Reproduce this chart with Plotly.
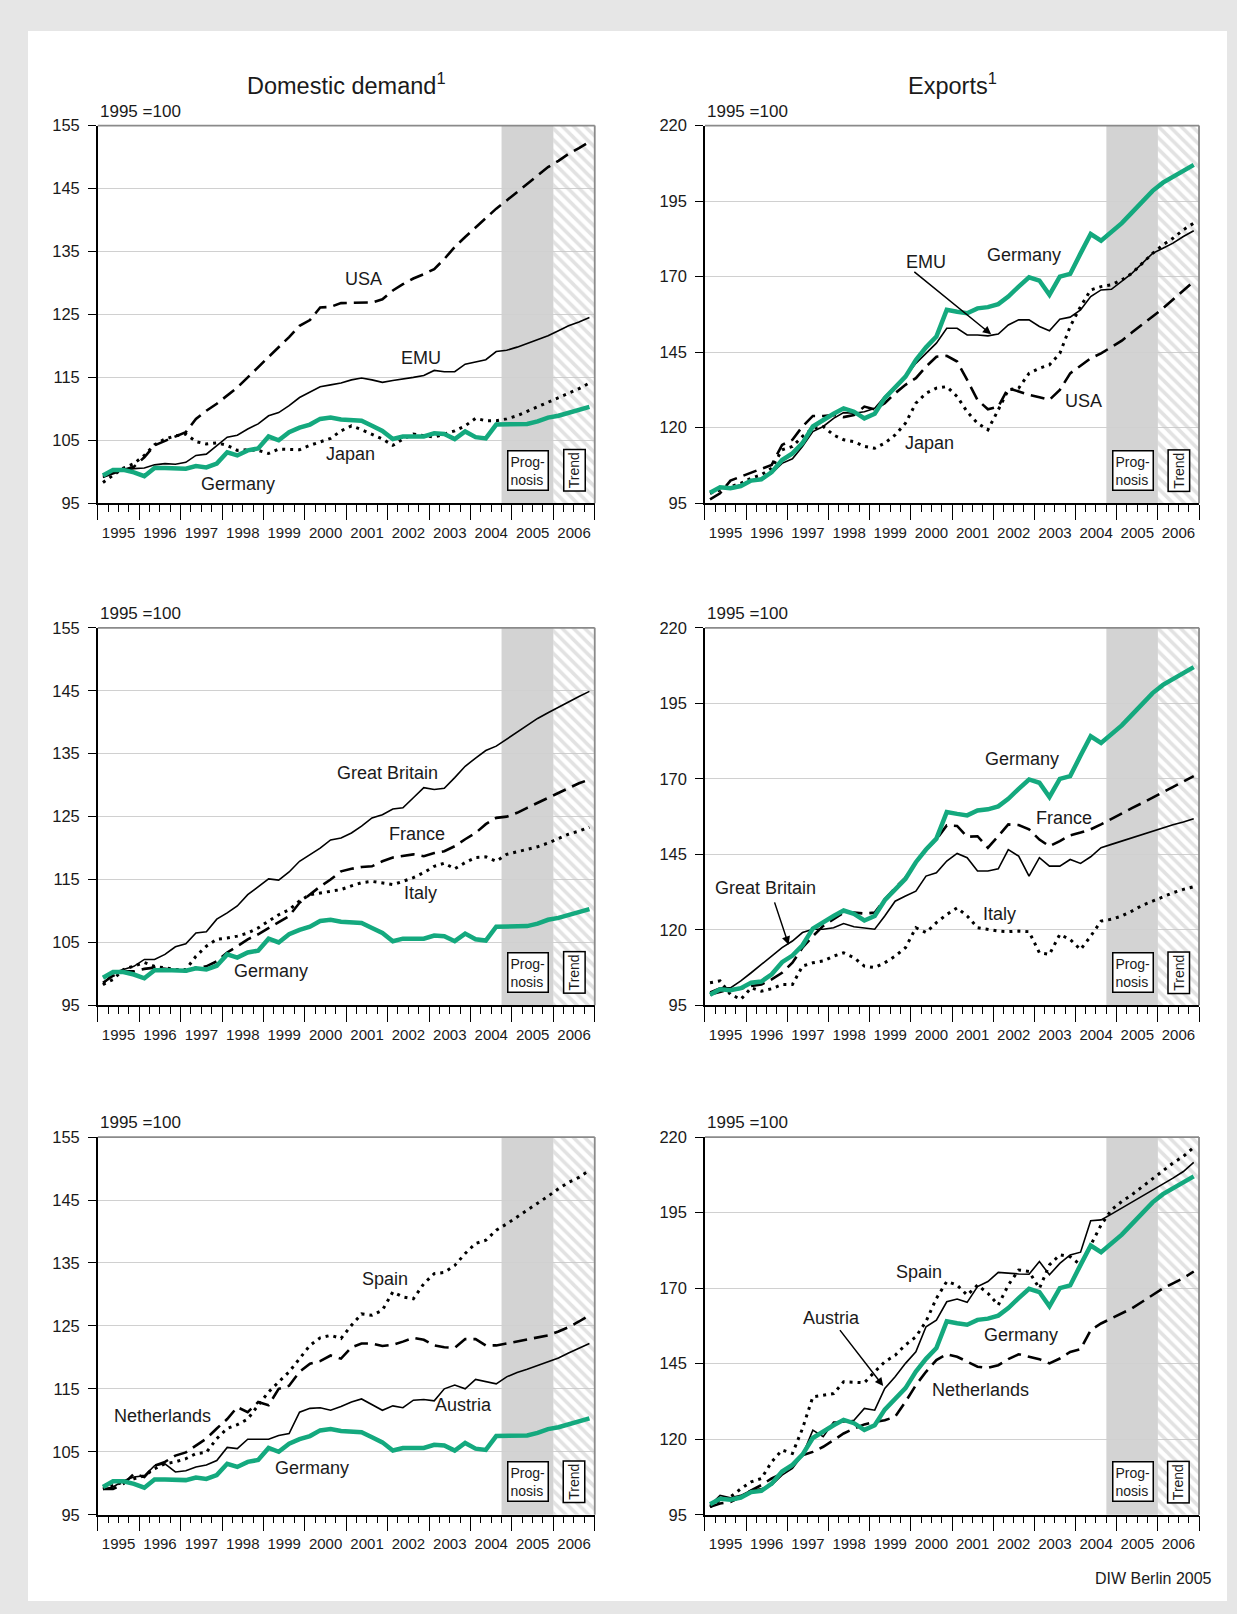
import plotly.graph_objects as go
from plotly.subplots import make_subplots
from datetime import date, timedelta

# quarterly observations 1995Q1 .. 2006Q4, plotted at mid-quarter
years = list(range(1995, 2007))
quarter_mid = ["02-15", "05-15", "08-15", "11-15"]
quarters = [f"{y}-{q}" for y in years for q in quarter_mid]

# ---- domestic demand (1995 = 100)
germany_dd = [99.4, 100.3, 100.3, 99.9, 99.3, 100.6, 100.6, 100.6, 100.5, 100.9, 100.7, 101.3,
              103.1, 102.6, 103.4, 103.7, 105.6, 105.0, 106.3, 107.0, 107.5, 108.4, 108.6, 108.3,
              108.2, 108.1, 107.3, 106.5, 105.2, 105.6, 105.6, 105.6, 106.1, 106.0, 105.2, 106.4,
              105.5, 105.3, 107.5, 107.5, 107.5, 107.6, 108.0, 108.6, 108.9, 109.3, 109.8, 110.3]
usa_dd = [99.2, 99.8, 100.3, 100.8, 102.3, 104.2, 104.9, 105.5, 106.3, 108.4, 109.7, 110.8,
          112.1, 113.4, 115.0, 116.6, 118.3, 119.8, 121.4, 123.2, 124.1, 126.1, 126.2, 126.8,
          126.8, 126.9, 126.9, 127.4, 128.8, 129.8, 130.7, 131.4, 132.2, 133.8, 135.7, 137.3,
          138.8, 140.3, 141.8, 143.1, 144.4, 145.7, 147.1, 148.4, 149.4, 150.5, 151.4, 152.4]
emu_dd = [99.1, 99.9, 100.2, 100.5, 100.6, 101.1, 101.3, 101.2, 101.5, 102.6, 102.8, 104.2,
          105.5, 105.8, 106.8, 107.6, 108.9, 109.4, 110.5, 111.8, 112.6, 113.5, 113.8, 114.1,
          114.6, 114.9, 114.6, 114.2, 114.5, 114.7, 115.0, 115.3, 116.1, 115.9, 115.9, 117.1,
          117.4, 117.8, 119.1, 119.3, 119.8, 120.4, 121.0, 121.6, 122.4, 123.2, 123.8, 124.5]
japan_dd = [98.3, 99.4, 100.6, 101.3, 102.6, 104.3, 105.2, 105.7, 106.0, 104.8, 104.4, 104.6,
            104.2, 103.4, 103.5, 103.4, 102.9, 103.6, 103.6, 103.5, 104.2, 104.7, 105.3, 106.5,
            107.3, 106.7, 106.0, 105.2, 104.2, 105.2, 106.0, 105.7, 105.5, 106.0, 106.5, 107.3,
            108.5, 108.1, 108.1, 108.4, 108.9, 109.6, 110.3, 111.0, 111.7, 112.5, 113.2, 114.1]
gb_dd = [98.3, 100.2, 100.7, 101.2, 102.3, 102.3, 103.1, 104.3, 104.8, 106.5, 106.7, 108.7,
         109.7, 110.8, 112.6, 113.8, 115.1, 114.9, 116.2, 117.9, 119.0, 120.0, 121.3, 121.6,
         122.4, 123.5, 124.8, 125.3, 126.2, 126.4, 128.0, 129.6, 129.3, 129.5, 131.2, 133.0,
         134.3, 135.5, 136.2, 137.3, 138.4, 139.5, 140.6, 141.5, 142.4, 143.3, 144.1, 144.9]
france_dd = [98.6, 99.7, 100.4, 100.4, 100.8, 101.0, 100.8, 100.6, 100.4, 101.0, 101.2, 102.0,
             103.4, 104.4, 105.5, 106.3, 107.3, 108.2, 109.2, 111.3, 112.6, 113.9, 115.0, 116.3,
             116.7, 117.0, 117.1, 117.9, 118.5, 118.7, 119.0, 118.7, 119.2, 119.5, 120.3, 121.4,
             122.4, 123.8, 124.8, 125.0, 125.6, 126.4, 127.2, 128.0, 128.8, 129.6, 130.3, 130.9]
italy_dd = [98.3, 99.1, 100.7, 101.2, 101.8, 101.2, 101.0, 100.7, 100.7, 102.8, 104.4, 105.5,
            105.7, 106.0, 106.5, 107.3, 108.4, 109.4, 110.2, 111.6, 112.6, 112.9, 113.2, 113.4,
            114.0, 114.5, 114.7, 114.5, 114.2, 114.7, 115.3, 116.1, 117.1, 117.6, 116.7, 117.7,
            118.5, 118.6, 117.9, 119.0, 119.4, 119.8, 120.2, 120.8, 121.5, 122.2, 122.7, 123.3]
spain_dd = [99.1, 99.7, 100.2, 100.7, 101.2, 102.3, 103.1, 103.4, 103.9, 104.7, 104.9, 107.1,
            108.7, 109.3, 110.2, 112.4, 114.5, 116.1, 117.7, 119.8, 121.9, 123.1, 123.5, 123.0,
            125.1, 126.9, 126.7, 127.5, 130.4, 129.6, 129.3, 131.7, 133.3, 133.5, 134.6, 136.5,
            138.1, 138.6, 140.2, 141.2, 142.3, 143.3, 144.4, 145.6, 146.8, 147.8, 148.6, 149.7]
nl_dd = [99.1, 99.1, 99.9, 101.5, 101.0, 102.8, 103.4, 104.4, 104.9, 106.0, 107.1, 108.7,
         110.2, 112.1, 111.3, 112.9, 112.4, 115.0, 115.5, 117.7, 119.0, 119.4, 120.3, 119.8,
         121.6, 122.2, 122.2, 121.8, 122.0, 122.5, 123.1, 122.8, 121.9, 121.6, 121.5, 122.9,
         122.9, 121.9, 121.9, 122.2, 122.5, 122.8, 123.2, 123.5, 124.1, 124.8, 125.7, 126.7]
austria_dd = [99.1, 99.4, 100.4, 101.0, 101.2, 102.8, 103.1, 101.8, 102.0, 102.6, 102.9, 103.6,
              105.7, 105.5, 107.0, 107.0, 107.0, 107.6, 107.9, 111.3, 111.9, 112.0, 111.6, 112.2,
              112.9, 113.4, 112.5, 111.6, 112.3, 112.0, 113.2, 113.3, 113.1, 115.0, 115.6, 115.0,
              116.5, 116.1, 115.8, 116.9, 117.6, 118.1, 118.7, 119.2, 119.9, 120.7, 121.5, 122.2]

# ---- exports (1995 = 100)
germany_ex = [98.5, 100.3, 100.0, 100.7, 102.5, 102.9, 105.3, 109.3, 111.5, 114.9, 120.4, 122.6,
              124.6, 126.4, 125.3, 123.1, 124.6, 129.8, 133.6, 136.9, 142.4, 146.6, 150.2, 159.0,
              158.4, 157.9, 159.5, 159.9, 160.9, 163.4, 166.7, 169.8, 168.7, 164.0, 170.0, 170.9,
              177.7, 184.1, 181.9, 184.6, 187.7, 191.2, 194.8, 198.4, 201.1, 203.1, 205.1, 207.0]
emu_ex = [98.3, 100.2, 100.0, 101.1, 102.7, 103.3, 104.9, 108.2, 109.7, 113.8, 118.7, 120.4,
          123.1, 125.0, 124.8, 125.3, 126.4, 130.3, 133.6, 136.9, 141.3, 144.6, 148.0, 152.9,
          152.9, 150.7, 150.7, 150.4, 151.0, 154.0, 155.7, 155.7, 153.5, 152.1, 155.9, 156.6,
          159.0, 163.4, 165.6, 165.8, 168.4, 171.1, 174.4, 177.7, 179.4, 181.1, 183.3, 185.2]
usa_ex = [96.3, 98.3, 102.5, 103.8, 105.3, 106.6, 107.7, 114.3, 116.0, 120.4, 123.9, 123.9,
          124.2, 123.5, 124.2, 127.0, 126.1, 128.1, 131.4, 134.2, 136.4, 140.2, 143.5, 143.8,
          141.9, 135.8, 129.2, 126.1, 127.0, 133.1, 132.0, 130.9, 130.1, 129.2, 132.5, 138.0,
          140.5, 143.0, 144.6, 146.6, 148.8, 151.5, 154.0, 156.8, 159.5, 162.3, 165.3, 168.4]
japan_ex = [98.3, 99.4, 100.5, 101.6, 103.3, 104.4, 106.6, 112.7, 113.8, 117.1, 119.8, 120.4,
            117.6, 116.0, 115.4, 113.8, 113.2, 114.9, 117.6, 121.5, 128.1, 131.4, 133.1, 133.6,
            130.3, 125.3, 121.5, 119.3, 125.9, 132.5, 133.1, 138.0, 139.7, 140.8, 144.6, 153.5,
            160.1, 165.6, 166.7, 167.3, 168.9, 171.1, 174.4, 177.7, 180.5, 182.7, 185.5, 187.7]
gb_ex = [99.4, 100.8, 100.8, 103.1, 105.8, 108.6, 111.3, 114.1, 116.3, 119.1, 120.2, 120.2,
         120.7, 122.1, 121.0, 120.7, 120.2, 124.6, 129.5, 131.2, 132.8, 137.8, 138.9, 142.8,
         145.3, 143.9, 139.5, 139.5, 140.2, 146.6, 144.4, 137.8, 143.9, 141.1, 141.1, 143.3,
         142.0, 144.2, 147.2, 148.3, 149.4, 150.5, 151.6, 152.7, 153.8, 154.8, 155.7, 156.8]
france_ex = [98.6, 99.4, 100.3, 100.5, 101.4, 101.9, 103.6, 105.8, 109.1, 114.1, 117.9, 121.3,
             123.5, 125.7, 125.7, 125.4, 125.7, 130.1, 133.9, 137.3, 142.2, 146.6, 149.9, 154.6,
             154.4, 150.8, 151.0, 147.2, 151.0, 154.9, 154.7, 153.3, 149.9, 147.7, 149.4, 151.3,
             152.2, 153.3, 154.9, 156.8, 158.5, 160.3, 162.0, 163.8, 165.6, 167.4, 169.2, 170.9]
italy_ex = [102.5, 103.1, 98.6, 97.0, 100.8, 99.7, 100.5, 101.9, 101.9, 108.0, 109.1, 109.7,
            111.3, 112.4, 110.8, 108.0, 107.5, 109.1, 111.3, 114.1, 120.7, 119.1, 122.4, 125.1,
            127.3, 124.6, 120.7, 120.2, 119.6, 119.4, 119.6, 119.4, 112.4, 111.9, 118.5, 116.8,
            113.5, 117.9, 122.9, 123.5, 124.6, 126.2, 128.1, 129.5, 131.0, 132.3, 133.4, 134.3]
austria_ex = [98.1, 101.4, 100.6, 101.4, 103.1, 103.6, 104.8, 108.1, 110.3, 114.7, 123.0, 120.8,
              125.7, 125.7, 126.3, 130.2, 129.6, 136.8, 140.7, 145.1, 148.9, 157.2, 159.4, 165.5,
              166.4, 165.3, 170.5, 172.2, 175.2, 174.9, 174.7, 174.6, 178.8, 174.4, 178.2, 181.0,
              181.9, 192.3, 192.6, 194.5, 196.5, 198.3, 200.3, 202.3, 204.4, 206.4, 208.6, 211.6]
spain_ex = [97.6, 99.8, 100.9, 103.6, 105.9, 107.0, 112.5, 116.4, 115.3, 123.5, 134.0, 134.6,
            135.1, 139.0, 138.8, 138.7, 142.3, 145.6, 147.8, 151.2, 153.9, 159.0, 166.6, 172.2,
            171.0, 167.7, 171.0, 168.3, 164.4, 171.0, 176.0, 175.5, 169.9, 177.7, 181.0, 180.4,
            177.7, 184.3, 190.9, 195.9, 198.7, 200.9, 203.6, 206.4, 208.8, 211.4, 213.6, 216.6]
nl_ex = [97.6, 98.7, 99.2, 100.9, 103.1, 104.8, 107.0, 108.6, 111.4, 114.7, 115.8, 117.5,
         119.7, 121.9, 123.5, 124.9, 125.7, 126.3, 127.4, 132.4, 137.9, 142.3, 146.2, 148.1,
         147.3, 145.6, 144.0, 143.6, 144.5, 146.5, 148.1, 147.3, 146.5, 145.1, 146.7, 148.9,
         149.8, 156.1, 158.3, 160.0, 161.7, 163.3, 165.5, 167.7, 169.9, 171.6, 173.3, 175.5]

GREEN = "#14a97e"
FONT = "Liberation Sans, Arial, sans-serif"
STYLES = {
    "solid": dict(color="black", width=1.6),
    "dash": dict(color="black", width=2.6, dash="14px,7px"),
    "dot": dict(color="black", width=3, dash="3px,5px"),
    "green": dict(color=GREEN, width=4.5),
}


def ydate(y):
    """fractional year -> ISO date string"""
    yr = int(y)
    return (date(yr, 1, 1) + timedelta(days=round((y - yr) * 365))).isoformat()


# (row, col) -> series with style, labels (text, year, value), arrow
panels = {
    (1, 1): dict(series=[(usa_dd, "dash"), (emu_dd, "solid"), (japan_dd, "dot"), (germany_dd, "green")],
                 labels=[("USA", 2001.41, 130.6), ("EMU", 2002.8, 118.1),
                         ("Japan", 2001.11, 102.85), ("Germany", 1998.38, 98.1)]),
    (1, 2): dict(series=[(usa_ex, "dash"), (japan_ex, "dot"), (emu_ex, "solid"), (germany_ex, "green")],
                 labels=[("EMU", 2000.38, 175.0), ("Germany", 2002.75, 177.1),
                         ("USA", 2004.2, 128.7), ("Japan", 2000.45, 115.1)],
                 arrow=(2000.05, 172.0, 2001.95, 150.9)),
    (2, 1): dict(series=[(gb_dd, "solid"), (france_dd, "dash"), (italy_dd, "dot"), (germany_dd, "green")],
                 labels=[("Great Britain", 2002.0, 132.0), ("France", 2002.7, 122.3),
                         ("Italy", 2002.78, 112.8), ("Germany", 1999.17, 100.4)]),
    (2, 2): dict(series=[(france_ex, "dash"), (gb_ex, "solid"), (italy_ex, "dot"), (germany_ex, "green")],
                 labels=[("Germany", 2002.7, 176.7), ("France", 2003.73, 157.0),
                         ("Great Britain", 1996.48, 133.8), ("Italy", 2002.15, 125.3)],
                 arrow=(1996.68, 129.6, 1997.03, 115.1)),
    (3, 1): dict(series=[(spain_dd, "dot"), (nl_dd, "dash"), (austria_dd, "solid"), (germany_dd, "green")],
                 labels=[("Spain", 2001.93, 132.4), ("Netherlands", 1996.57, 110.7),
                         ("Austria", 2003.82, 112.5), ("Germany", 2000.17, 102.4)]),
    (3, 2): dict(series=[(spain_ex, "dot"), (nl_ex, "dash"), (austria_ex, "solid"), (germany_ex, "green")],
                 labels=[("Spain", 2000.2, 175.4), ("Austria", 1998.08, 160.1),
                         ("Germany", 2002.68, 154.6), ("Netherlands", 2001.7, 136.2)],
                 arrow=(1998.25, 156.6, 1999.33, 137.6)),
}

x_domains = {1: [0.0791, 0.4808], 2: [0.5699, 0.9693]}
y_domains = {1: [0.6882, 0.9222], 2: [0.3771, 0.6110], 3: [0.0615, 0.2955]}
y_ranges = {1: [95, 155], 2: [95, 220]}
y_dticks = {1: 10, 2: 25}

fig = make_subplots(rows=3, cols=2)
YEAR_MS = 365 * 24 * 3600 * 1000

# white card on grey page (first, so the grey prognosis bands sit on top of it)
fig.add_shape(type="rect", xref="paper", yref="paper", x0=28 / 1237, x1=1227 / 1237,
              y0=1 - 1601 / 1614, y1=1 - 31 / 1614, fillcolor="white", line_width=0, layer="below")

for (r, c), p in panels.items():
    idx = (r - 1) * 2 + c
    xa = "x" if idx == 1 else f"x{idx}"
    ya = "y" if idx == 1 else f"y{idx}"
    lo, hi = y_ranges[c]

    # prognosis (grey) and trend (hatched) periods
    fig.add_shape(type="rect", xref=xa, yref=f"{ya} domain", x0="2004-10-01", x1="2006-01-01",
                  y0=0, y1=1, fillcolor="#d3d3d3", line_width=0, layer="below")
    fig.add_trace(go.Bar(x=["2006-07-02"], y=[hi - lo], base=[lo], width=[YEAR_MS],
                         marker=dict(color="rgba(0,0,0,0)", line_width=0,
                                     pattern=dict(shape="\\", fgcolor="#c6c6c6",
                                                  bgcolor="rgba(0,0,0,0)",
                                                  size=8, solidity=0.45)),
                         hoverinfo="skip", showlegend=False), row=r, col=c)

    for values, style in p["series"]:
        fig.add_trace(go.Scatter(x=quarters, y=values, mode="lines", line=STYLES[style],
                                 showlegend=False, hoverinfo="skip"), row=r, col=c)

    for text, yr, val in p["labels"]:
        fig.add_annotation(x=ydate(yr), y=val, xref=xa, yref=ya, text=text, showarrow=False,
                           xanchor="center", yanchor="middle",
                           font=dict(family=FONT, size=18, color="#1a1a1a"))
    if "arrow" in p:
        x0, y0, x1, y1 = p["arrow"]
        fig.add_annotation(x=ydate(x1), y=y1, ax=ydate(x0), ay=y0, xref=xa, yref=ya,
                           axref=xa, ayref=ya, text="", showarrow=True, arrowhead=2,
                           arrowsize=1.1, arrowwidth=1.5, arrowcolor="black")

    # box labels
    fig.add_annotation(x=0.866, y=0.087, xref=f"{xa} domain", yref=f"{ya} domain",
                       xanchor="center", yanchor="middle",
                       text="Prog-<br>nosis", showarrow=False, align="left",
                       font=dict(family=FONT, size=14, color="#1a1a1a"),
                       bgcolor="white", bordercolor="black", borderwidth=1.5, borderpad=2)
    fig.add_annotation(x=0.959, y=0.087, xref=f"{xa} domain", yref=f"{ya} domain",
                       xanchor="center", yanchor="middle",
                       text="Trend", textangle=-90, showarrow=False,
                       font=dict(family=FONT, size=14, color="#1a1a1a"),
                       bgcolor="white", bordercolor="black", borderwidth=1.5, borderpad=2)
    fig.add_annotation(x=0, y=1.0, xref=f"{xa} domain", yref=f"{ya} domain",
                       text="1995 =100", showarrow=False, xanchor="left", yanchor="bottom",
                       yshift=3, font=dict(family=FONT, size=17, color="#1a1a1a"))

    # grey frame on top and right
    fig.add_shape(type="line", xref=f"{xa} domain", yref=f"{ya} domain", x0=0, x1=1, y0=1, y1=1,
                  line=dict(color="#8a8a8a", width=1.8), layer="above")
    fig.add_shape(type="line", xref=f"{xa} domain", yref=f"{ya} domain", x0=1, x1=1, y0=0, y1=1,
                  line=dict(color="#8a8a8a", width=1.8), layer="above")

    fig.update_xaxes(row=r, col=c, domain=x_domains[c], type="date",
                     range=["1995-01-01", "2007-01-01"], tick0="1995-01-01", dtick="M12",
                     ticklabelmode="period", tickformat="%Y", ticks="outside", ticklen=15,
                     tickwidth=1.2, tickcolor="black", showline=True, linecolor="black",
                     linewidth=1.5, showgrid=False, automargin=False,
                     tickfont=dict(family=FONT, size=15, color="#1a1a1a"),
                     minor=dict(dtick="M3", tick0="1995-01-01", ticks="outside", ticklen=7,
                                tickwidth=1.2, tickcolor="black", showgrid=False))
    fig.update_yaxes(row=r, col=c, domain=y_domains[r], range=y_ranges[c], dtick=y_dticks[c],
                     tick0=95, ticks="outside", ticklen=8, tickwidth=1.2, tickcolor="black",
                     showline=True, linecolor="black", linewidth=1.5, showgrid=True,
                     gridcolor="#d0d0d0", gridwidth=1.2, zeroline=False, automargin=False,
                     ticklabelstandoff=5,
                     tickfont=dict(family=FONT, size=16.5, color="#1a1a1a"))

fig.add_annotation(x=346 / 1237, y=1 - 84 / 1614, xref="paper", yref="paper",
                   xanchor="center", yanchor="middle",
                   text="Domestic demand<sup>1</sup>", showarrow=False,
                   font=dict(family=FONT, size=23.5, color="#1a1a1a"))
fig.add_annotation(x=952 / 1237, y=1 - 84 / 1614, xref="paper", yref="paper",
                   xanchor="center", yanchor="middle",
                   text="Exports<sup>1</sup>", showarrow=False,
                   font=dict(family=FONT, size=23.5, color="#1a1a1a"))
fig.add_annotation(x=1214 / 1237, y=1 - 1578 / 1614, xref="paper", yref="paper",
                   xanchor="right", yanchor="middle",
                   text="DIW Berlin 2005", showarrow=False,
                   font=dict(family=FONT, size=16, color="#1a1a1a"))

fig.update_layout(width=1237, height=1614, margin=dict(l=0, r=0, t=0, b=0),
                  paper_bgcolor="#e6e6e6", plot_bgcolor="rgba(0,0,0,0)",
                  showlegend=False, barmode="overlay", font=dict(family=FONT))

fig.write_html("out.html", config={"displayModeBar": False},
               post_script="document.body.style.margin='0px';")
